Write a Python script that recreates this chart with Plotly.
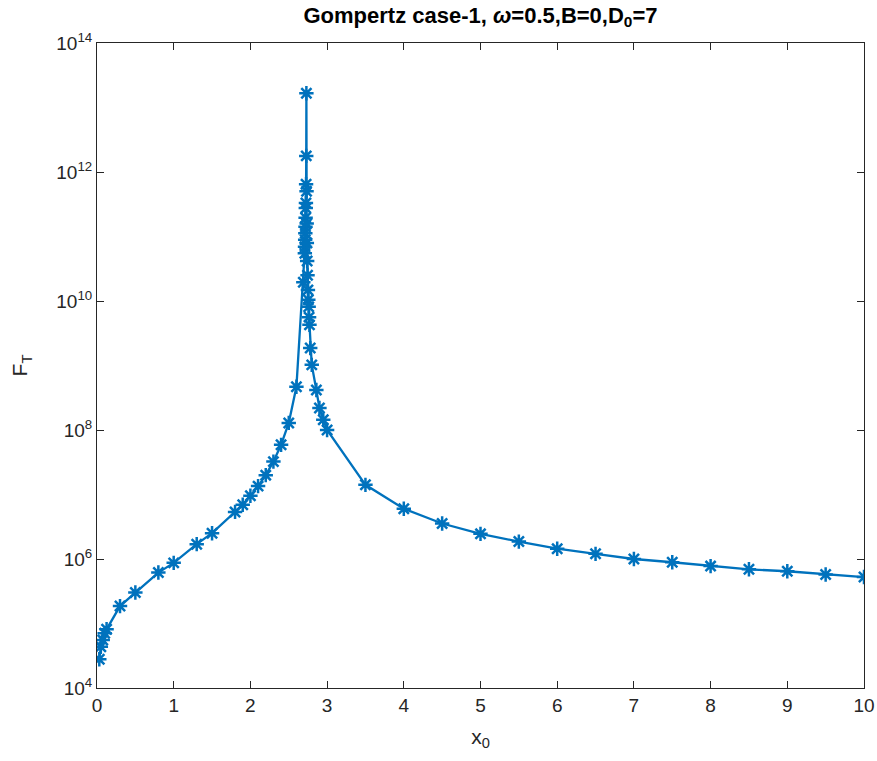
import plotly.graph_objects as go

x0_vals = [0.03, 0.05, 0.075, 0.1, 0.125, 0.3, 0.5, 0.8, 1.0, 1.3, 1.5, 1.8, 1.9, 2.0, 2.1, 2.2, 2.3, 2.4, 2.5, 2.6,
           2.69, 2.71, 2.712, 2.714, 2.716, 2.718, 2.72, 2.722, 2.724, 2.726, 2.728, 2.73,
           2.732, 2.734, 2.736, 2.74, 2.745, 2.75, 2.755, 2.76, 2.765, 2.77, 2.78, 2.8,
           2.86, 2.9, 2.95, 3.0, 3.5, 4.0, 4.5, 5.0, 5.5, 6.0, 6.5, 7.0, 7.5, 8.0, 8.5, 9.0, 9.5, 10.0]
log10_FT = [4.445, 4.64, 4.744, 4.848, 4.91, 5.27, 5.48, 5.79, 5.94, 6.23, 6.40, 6.73, 6.84, 6.98, 7.13, 7.30, 7.51, 7.77, 8.11, 8.67,
            10.29, 10.74, 10.84, 10.95, 11.05, 11.15, 11.29, 11.44, 11.52, 11.81, 12.25, 13.22,
            11.7, 11.2, 10.9, 10.62, 10.40, 10.17, 10.02, 9.91, 9.75, 9.63, 9.27, 9.01,
            8.62, 8.34, 8.16, 8.0, 7.15, 6.78, 6.55, 6.39, 6.27, 6.16, 6.08, 6.0, 5.95, 5.89, 5.84, 5.81, 5.76, 5.72]
FT = [10 ** v for v in log10_FT]

x_ticks = list(range(0, 11))
y_tickvals = [1e4, 1e6, 1e8, 1e10, 1e12, 1e14]
y_ticktext = ["10<sup>4</sup>", "10<sup>6</sup>", "10<sup>8</sup>", "10<sup>10</sup>", "10<sup>12</sup>", "10<sup>14</sup>"]

fig = go.Figure()
fig.add_trace(go.Scatter(
    x=x0_vals, y=FT, mode="lines+markers",
    line=dict(color="#0072BD", width=2.3),
    marker=dict(symbol="asterisk-open", size=12, color="#0072BD",
                line=dict(color="#0072BD", width=2.5)),
    showlegend=False,
))

font_family = "Liberation Sans, Arial, Helvetica, sans-serif"
axis_common = dict(
    showline=True, linecolor="#262626", linewidth=1, mirror="allticks",
    ticks="inside", ticklen=7, tickcolor="#262626", tickwidth=1,
    showgrid=False, zeroline=False, automargin=False,
    tickfont=dict(family=font_family, size=19, color="#262626"),
)

fig.update_layout(
    width=877, height=761, autosize=False,
    margin=dict(l=97, r=13, t=43, b=73),
    paper_bgcolor="white", plot_bgcolor="white",
    title=dict(text="<b>Gompertz case-1, <i>ω</i>=0.5,B=0,D<sub>0</sub>=7</b>",
               x=(97 + 864) / 2 / 877, xanchor="center", y=1 - 15 / 761, yanchor="middle",
               font=dict(family=font_family, size=22, color="black")),
    xaxis=dict(range=[0, 10], tickvals=x_ticks,
               title=dict(text="x<sub>0</sub>", font=dict(family=font_family, size=21, color="#262626"), standoff=14),
               **axis_common),
    yaxis=dict(type="log", range=[4, 14], tickvals=y_tickvals, ticktext=y_ticktext,
               title=dict(text="F<sub>T</sub>", font=dict(family=font_family, size=21, color="#262626"), standoff=22),
               **axis_common),
)

fig.write_html("out.html")
